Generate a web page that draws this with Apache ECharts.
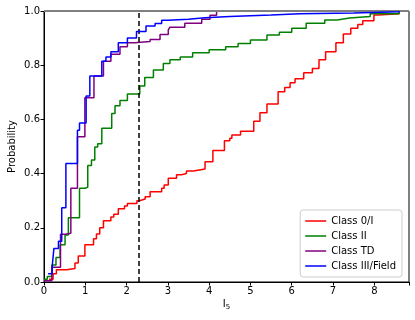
<!DOCTYPE html>
<html>
<head>
<meta charset="utf-8">
<script src="https://cdn.jsdelivr.net/npm/echarts@6/dist/echarts.min.js"></script>
<style>
  html, body { margin: 0; padding: 0; background: #fff; }
  #chart { width: 415px; height: 320px; }
</style>
</head>
<body>
<div id="chart"></div>
<script>
// ECDF values: x positions and the probability after each step
const classNames = ["Class 0/I", "Class II", "Class TD", "Class III/Field"];
const classColors = ["#ff0000", "#008000", "#800080", "#0000ff"];

const redX = [0.12, 0.22, 0.3, 0.55, 0.75, 0.83, 0.99, 1.2, 1.27, 1.35, 1.44, 1.62, 1.69, 1.8, 1.95, 2.02, 2.25, 2.31, 2.45, 2.57, 2.85, 2.91, 3.01, 3.21, 3.33, 3.45, 3.62, 3.9, 4.09, 4.37, 4.5, 4.55, 4.76, 5.08, 5.23, 5.4, 5.67, 5.83, 5.96, 6.08, 6.29, 6.5, 6.66, 6.82, 7.07, 7.25, 7.43, 7.6, 7.72, 7.99, 8.1, 8.6];
const redP = [0.01, 0.03, 0.045, 0.05, 0.07, 0.096, 0.137, 0.16, 0.177, 0.2, 0.226, 0.24, 0.25, 0.27, 0.28, 0.29, 0.3, 0.306, 0.315, 0.333, 0.346, 0.358, 0.383, 0.396, 0.4, 0.41, 0.417, 0.444, 0.485, 0.521, 0.53, 0.542, 0.556, 0.593, 0.625, 0.657, 0.702, 0.718, 0.735, 0.75, 0.772, 0.788, 0.82, 0.85, 0.883, 0.915, 0.936, 0.95, 0.964, 0.985, 0.99, 1.0];

const greenX = [0.0, 0.08, 0.19, 0.29, 0.39, 0.51, 0.59, 0.86, 1.0, 1.06, 1.15, 1.23, 1.3, 1.4, 1.64, 1.72, 1.84, 2.02, 2.32, 2.44, 2.65, 2.89, 3.05, 3.3, 3.6, 4.0, 4.4, 4.7, 5.0, 5.4, 5.7, 6.0, 6.35, 6.8, 7.1, 7.4, 7.9, 8.6];
const greenP = [0.01, 0.02, 0.063, 0.09, 0.137, 0.173, 0.237, 0.346, 0.35, 0.43, 0.45, 0.498, 0.51, 0.567, 0.622, 0.65, 0.67, 0.694, 0.723, 0.755, 0.782, 0.806, 0.82, 0.83, 0.846, 0.857, 0.868, 0.88, 0.893, 0.911, 0.922, 0.936, 0.955, 0.967, 0.974, 0.98, 0.99, 1.0];

const purpleX = [0.0, 0.19, 0.4, 0.52, 0.65, 0.81, 0.99, 1.21, 1.44, 1.62, 1.84, 2.02, 2.2, 2.57, 2.81, 3.01, 3.05, 3.41, 3.82, 4.02, 4.18];
const purpleP = [0.005, 0.054, 0.176, 0.18, 0.346, 0.536, 0.68, 0.76, 0.815, 0.84, 0.868, 0.883, 0.887, 0.895, 0.913, 0.93, 0.94, 0.955, 0.97, 0.984, 1.0];

const blueX = [0.1, 0.2, 0.24, 0.35, 0.43, 0.53, 0.81, 0.86, 1.02, 1.11, 1.4, 1.5, 1.62, 1.8, 2.02, 2.24, 2.47, 2.69, 2.85, 3.0, 3.5, 3.9, 4.5, 5.5, 6.2, 7.5, 8.6];
const blueP = [0.03, 0.06, 0.124, 0.15, 0.274, 0.437, 0.56, 0.587, 0.686, 0.76, 0.815, 0.83, 0.85, 0.883, 0.9, 0.924, 0.945, 0.954, 0.966, 0.97, 0.975, 0.98, 0.985, 0.99, 0.993, 0.997, 1.0];

const xTicks = [0, 1, 2, 3, 4, 5, 6, 7, 8];
const yTicks = [0.0, 0.2, 0.4, 0.6, 0.8, 1.0];
const cutX = 2.3;

const allX = [redX, greenX, purpleX, blueX];
const allP = [redP, greenP, purpleP, blueP];

const chart = echarts.init(document.getElementById("chart"));
const font = "DejaVu Sans";

const series = classNames.map((name, i) => ({
  name: name,
  type: "line",
  step: "end",
  symbol: "none",
  silent: true,
  z: 2 + i,
  lineStyle: { color: classColors[i], width: 1.5 },
  itemStyle: { color: classColors[i] },
  data: allX[i].map((x, j) => [x, allP[i][j]]),
}));

// gray line at probability 1 and the dashed cut
series.push({
  name: "guides",
  type: "line",
  data: [],
  silent: true,
  markLine: {
    symbol: "none",
    silent: true,
    label: { show: false },
    data: [
      { yAxis: 1, lineStyle: { color: "#808080", width: 2, type: "solid" } },
      { xAxis: cutX, lineStyle: { color: "#000", width: 1.5, type: [5, 3] } },
    ],
  },
  z: 10,
});

const option = {
  animation: false,
  grid: {
    left: 44,
    right: 6,
    top: 11,
    bottom: 38,
    outerBoundsMode: "none",
    containLabel: false,
    show: true,
    borderColor: "#000",
    borderWidth: 1,
  },
  legend: {
    data: classNames,
    orient: "vertical",
    right: 13,
    bottom: 43,
    icon: "rect",
    itemWidth: 21,
    itemHeight: 1.5,
    itemGap: 3,
    padding: [5, 6, 5, 5],
    borderColor: "#ccc",
    borderWidth: 1,
    borderRadius: 3,
    backgroundColor: "rgba(255,255,255,0.8)",
    textStyle: { fontFamily: font, fontSize: 10, color: "#000", lineHeight: 12 },
  },
  xAxis: {
    type: "value",
    min: 0,
    max: 8.84,
    interval: 1,
    name: "I{s|5}",
    nameLocation: "middle",
    nameGap: 16,
    nameMoveOverlap: false,
    nameTextStyle: {
      fontFamily: font,
      fontSize: 10,
      color: "#000",
      rich: { s: { fontFamily: font, fontSize: 7, color: "#000", verticalAlign: "bottom", padding: [6, 0, 0, 0] } },
    },
    axisLine: { show: true, lineStyle: { color: "#000", width: 1 } },
    axisTick: { show: true, length: 3.5, lineStyle: { color: "#000" } },
    axisLabel: {
      fontFamily: font,
      fontSize: 10,
      color: "#000",
      margin: 4,
      formatter: (v) => (xTicks.includes(v) ? String(v) : ""),
    },
    splitLine: { show: false },
  },
  yAxis: {
    type: "value",
    min: 0,
    max: 1,
    interval: 0.2,
    name: "Probability",
    nameLocation: "middle",
    nameGap: 27,
    nameMoveOverlap: false,
    nameTextStyle: { fontFamily: font, fontSize: 10, color: "#000" },
    axisLine: { show: true, lineStyle: { color: "#000", width: 1 } },
    axisTick: { show: true, length: 3.5, lineStyle: { color: "#000" } },
    axisLabel: {
      fontFamily: font,
      fontSize: 10,
      color: "#000",
      margin: 4,
      formatter: (v) => yTicks.find((t) => Math.abs(t - v) < 1e-6).toFixed(1),
    },
    splitLine: { show: false },
  },
  series: series,
};

chart.setOption(option);
</script>
</body>
</html>
